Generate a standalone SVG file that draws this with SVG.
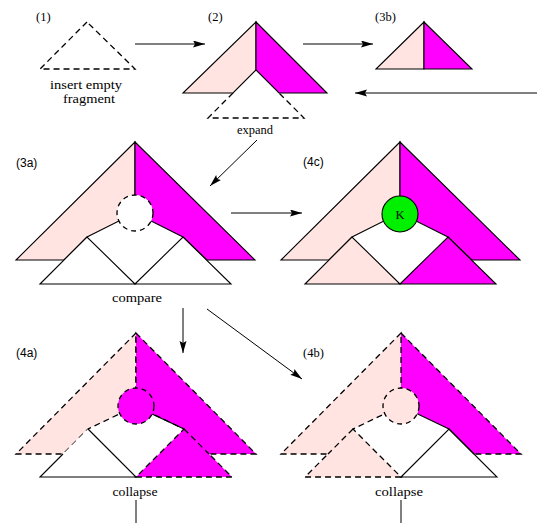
<svg xmlns="http://www.w3.org/2000/svg" width="537" height="523" viewBox="0 0 537 523">
<style>
.pk{fill:#FFE4E1}
.mg{fill:#FF00FF}
.wh{fill:#FFFFFF}
.sl{stroke:#000;stroke-width:1.1;stroke-linejoin:miter}
.ds{stroke:#000;stroke-width:1.3;stroke-dasharray:6 4}
.nf{fill:none}
.cn{stroke:#000;stroke-width:1;fill:none}
.lbl{font-family:"Liberation Serif",serif;font-size:12.5px;fill:#000}
.num{font-family:"Liberation Sans",sans-serif;font-size:12px;fill:#000}
</style>
<defs>
<marker id="ah" markerUnits="userSpaceOnUse" markerWidth="13" markerHeight="8" refX="12" refY="3.5" orient="auto">
<path d="M0,0 L12,3.5 L0,7 L2,3.5 z" fill="#000"/>
</marker>
</defs>
<rect width="537" height="523" fill="#fff"/>

<g id="connectors">
<line class="cn" x1="135" y1="44" x2="205" y2="44" marker-end="url(#ah)"/>
<line class="cn" x1="303" y1="44" x2="373" y2="44" marker-end="url(#ah)"/>
<line class="cn" x1="537" y1="93" x2="355" y2="93" marker-end="url(#ah)"/>
<line class="cn" x1="257" y1="140" x2="210" y2="186" marker-end="url(#ah)"/>
<line class="cn" x1="231" y1="213" x2="302" y2="213" marker-end="url(#ah)"/>
<line class="cn" x1="183" y1="308" x2="183" y2="353" marker-end="url(#ah)"/>
<line class="cn" x1="207" y1="309" x2="302" y2="379" marker-end="url(#ah)"/>
<line class="cn" x1="136" y1="500" x2="136" y2="523"/>
<line class="cn" x1="401" y1="500" x2="401" y2="523"/>
</g>

<g id="n1">
<polygon class="nf ds" points="87,22 40,69 135,69"/>
<text class="lbl" x="36" y="21">(1)</text>
<text class="lbl" x="86" y="89" text-anchor="middle" textLength="72" lengthAdjust="spacingAndGlyphs">insert empty</text>
<text class="lbl" x="89" y="103" text-anchor="middle" textLength="52" lengthAdjust="spacingAndGlyphs">fragment</text>
</g>

<g id="n2">
<polyline class="nf ds" points="233,93 208,118 304,118 279,93"/>
<polygon class="pk sl" points="256,22 183,93 233,93 256,70"/>
<polygon class="mg sl" points="256,22 327,93 279,93 256,70"/>
<text class="lbl" x="208" y="21">(2)</text>
<text class="lbl" x="255" y="134" text-anchor="middle" textLength="36" lengthAdjust="spacingAndGlyphs">expand</text>
</g>

<g id="n3b">
<polygon class="pk sl" points="424,22 376,69 424,69"/>
<polygon class="mg sl" points="424,22 472,69 424,69"/>
<text class="lbl" x="375" y="21">(3b)</text>
</g>

<g id="n3a">
<polygon class="pk sl" points="135,142 16,260 64,260 87,237 135,213"/>
<polygon class="mg sl" points="135,142 255,260 207,260 183,237 135,213"/>
<polygon class="wh sl" points="40,284 87,237 135,284"/>
<polygon class="wh sl" points="135,284 183,237 231,284"/>
<circle class="wh ds" cx="135" cy="213" r="18" style="stroke-dasharray:5 4"/>
<text class="num" x="16" y="167">(3a)</text>
<text class="lbl" x="137" y="302" text-anchor="middle" textLength="50" lengthAdjust="spacingAndGlyphs">compare</text>
</g>

<g id="n4c">
<polygon class="pk sl" points="400,142 281,260 329,260 352,237 400,213"/>
<polygon class="mg sl" points="400,142 520,260 472,260 448,237 400,213"/>
<polygon class="pk sl" points="305,284 352,237 400,284"/>
<polygon class="mg sl" points="400,284 448,237 496,284"/>
<circle cx="400" cy="214" r="18" fill="#00F000" stroke="#000" stroke-width="1.1"/>
<text class="lbl" x="400" y="219" text-anchor="middle">K</text>
<text class="num" x="303" y="166">(4c)</text>
</g>

<g id="n4a">
<polygon class="pk ds" points="136,333 16,454 63,454 88,429 136,406"/>
<polygon class="wh" points="40,477 88,429 136,477"/>
<polygon class="mg ds" points="136,333 256,454 209,454 232,477 136,477 184,429 136,406"/>
<line class="ds" x1="184" y1="429" x2="209" y2="454"/>
<line class="sl" x1="152" y1="414" x2="184" y2="429"/>
<circle class="mg ds" cx="136" cy="406" r="18" style="stroke-dasharray:5 4"/>
<polyline class="nf sl" points="63,454 40,477 136,477 88,429"/>
<text class="num" x="16" y="357">(4a)</text>
<text class="lbl" x="135" y="496" text-anchor="middle" textLength="45" lengthAdjust="spacingAndGlyphs">collapse</text>
</g>

<g id="n4b">
<polygon class="mg" points="401,333 521,454 474,454 449,429 401,406"/>
<polygon class="wh sl" points="401,477 449,429 497,477"/>
<polyline class="nf sl" points="401,406 449,429 474,454"/>
<polyline class="nf ds" points="401,333 521,454 474,454"/>
<polygon class="pk ds" points="401,333 281,454 328,454 305,477 401,477 353,429 401,406"/>
<line class="ds" x1="353" y1="429" x2="328" y2="454"/>
<circle class="pk ds" cx="401" cy="406" r="18" style="stroke-dasharray:5 4"/>
<text class="lbl" x="303" y="357">(4b)</text>
<text class="lbl" x="399" y="496" text-anchor="middle" textLength="48" lengthAdjust="spacingAndGlyphs">collapse</text>
</g>
</svg>
